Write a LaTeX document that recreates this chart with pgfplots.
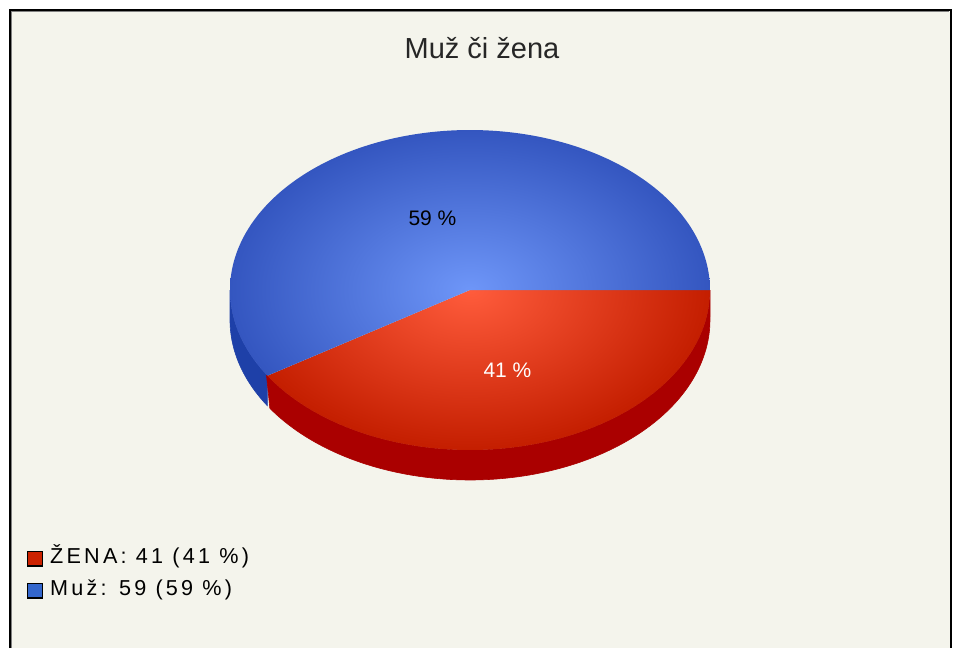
\documentclass[border=0pt]{standalone}
\usepackage{pgfplots}
\pgfplotsset{compat=1.18}
\usepackage{fontspec}
\setmainfont{Liberation Sans}
\newfontfamily\legendfont[LetterSpace=15]{Liberation Sans}
\definecolor{bg}{RGB}{244,244,236}
\definecolor{redin}{RGB}{255,92,60}
\definecolor{redout}{RGB}{196,30,0}
\definecolor{redside}{RGB}{170,0,0}
\definecolor{redkey}{RGB}{204,34,0}
\definecolor{bluein}{RGB}{110,150,248}
\definecolor{blueout}{RGB}{52,86,192}
\definecolor{blueside}{RGB}{30,64,168}
\definecolor{bluekey}{RGB}{51,102,204}
% data
\newcommand\vZena{41}
\newcommand\vMuz{59}
\pgfmathsetmacro\angZ{360*\vZena/(\vZena+\vMuz)}
\pgfmathsetmacro\angZx{\angZ+0.4}
\begin{document}
\begin{tikzpicture}
\begin{axis}[
  scale only axis, width=480pt, height=324pt,
  xmin=0, xmax=960, ymin=0, ymax=648, y dir=reverse,
  axis lines=none, clip=false,
  legend style={at={(axis description cs:0.0281,0.1545)}, anchor=north west,
    draw=none, fill=none, inner sep=0pt, outer sep=0pt,
    font=\legendfont\fontsize{10.8}{12}\selectfont,
    row sep=5.2pt,
    nodes={inner sep=0pt, text height=8pt, text depth=2.8pt}},
  legend cell align=left,
  /tikz/every odd column/.append style={column sep=3.6pt},
]
% background and frame
\fill[white] (axis cs:0,0) rectangle (axis cs:960,648);
\fill[bg] (axis cs:10,10) rectangle (axis cs:951,648);
\draw[black, line width=1pt] (axis cs:10,648) -- (axis cs:10,10) -- (axis cs:950.5,10) -- (axis cs:950.5,648);
\draw[gray, line width=0.5pt] (axis cs:11.75,648) -- (axis cs:11.75,11.75) -- (axis cs:949,11.75);

% side of the blue slice (angles angZ .. 180)
\addplot[forget plot, draw=blueside, line width=0.3pt, fill=blueside, domain=0:2, samples=201]
  ({470+240*cos(ifthenelse(x<=1, \angZ+(180-\angZ)*x, 180-(180-\angZ)*(x-1)))},
   {290+160*sin(ifthenelse(x<=1, \angZ+(180-\angZ)*x, 180-(180-\angZ)*(x-1)))+30*(x>1)}) -- cycle;
% side of the red slice (angles 0 .. angZ)
\addplot[forget plot, draw=redside, line width=0.3pt, fill=redside, domain=0:2, samples=201]
  ({470+240*cos(ifthenelse(x<=1, \angZx*x, \angZx-\angZx*(x-1)))},
   {290+160*sin(ifthenelse(x<=1, \angZx*x, \angZx-\angZx*(x-1)))+30*(x>1)}) -- cycle;

% top face: red slice
\addplot[draw=none, inner color=redin, outer color=redout, domain=0:\angZ, samples=100,
  legend image code/.code={\draw[black, line width=0.6pt, inner color=redkey, outer color=redkey] (0pt,-3.7pt) rectangle (7.4pt,3.7pt);}]
  ({470+240*cos(x)},{290+160*sin(x)}) -- (axis cs:470,290) -- cycle
  (axis cs:230,130) (axis cs:710,450);
\addlegendentry{ŽENA:\ \vZena\ (\vZena\ \%)}
% top face: blue slice
\addplot[draw=none, inner color=bluein, outer color=blueout, domain=\angZ:360, samples=140,
  legend image code/.code={\draw[black, line width=0.6pt, inner color=bluekey, outer color=bluekey] (0pt,-3.7pt) rectangle (7.4pt,3.7pt);}]
  ({470+240*cos(x)},{290+160*sin(x)}) -- (axis cs:470,290) -- cycle
  (axis cs:230,130) (axis cs:710,450);
\addlegendentry{Muž: \vMuz\ (\vMuz\ \%)}

% labels
\node[anchor=base, font=\fontsize{14.5}{17}\selectfont, text=black!85] at (axis cs:482,58) {Muž či žena};
\node[anchor=base, font=\fontsize{10.5}{12}\selectfont, text=black] at (axis cs:432.5,225) {59 \%};
\node[anchor=base, font=\fontsize{10.5}{12}\selectfont, text=white] at (axis cs:507.5,377) {41 \%};
\end{axis}
\end{tikzpicture}
\end{document}
